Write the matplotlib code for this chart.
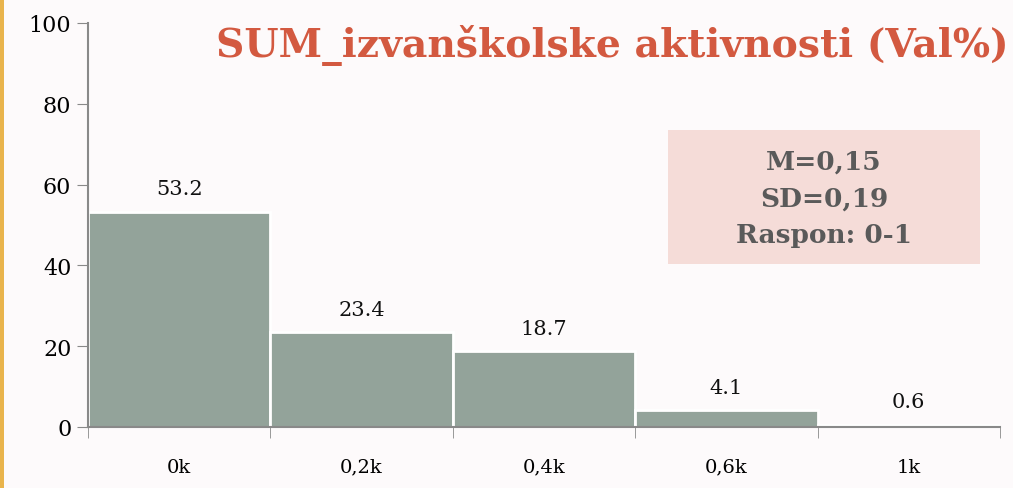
import numpy as np
import matplotlib.pyplot as plt
from matplotlib.patches import Rectangle

categories = ['0k', '0,2k', '0,4k', '0,6k', '1k']
values = [53.2, 23.4, 18.7, 4.1, 0.6]
value_labels = ['53.2', '23.4', '18.7', '4.1', '0.6']
stats_text = 'M=0,15\nSD=0,19\nRaspon: 0-1'
title = 'SUM_izvanškolske aktivnosti (Val%)'

plt.rcParams['font.family'] = ['DejaVu Serif']

bg = '#fdfafb'
fig = plt.figure(figsize=(10.13, 4.89), dpi=100, facecolor=bg)
ax = fig.add_axes([88 / 1013, 1 - 428 / 489, 912 / 1013, 404 / 489])
ax.set_facecolor(bg)

x = np.arange(len(categories))
ax.bar(x, values, width=1.0, color='#93a39a', edgecolor='white', linewidth=2)
for xi, v, lab in zip(x, values, value_labels):
    ax.annotate(lab, (xi, v), xytext=(0, 10), textcoords='offset points',
                ha='center', va='bottom', fontsize=15, color='#111111')

ax.set_xlim(-0.5, len(categories) - 0.5)
ax.set_ylim(0, 100)
ax.set_yticks([0, 20, 40, 60, 80, 100])
ax.set_xticks(x)
ax.set_xticklabels(categories)
ax.set_xticks(np.arange(len(categories) + 1) - 0.5, minor=True)
ax.tick_params(axis='x', which='major', length=0, pad=22, labelsize=14)
ax.tick_params(axis='x', which='minor', length=8, color='#898989', direction='out')
ax.tick_params(axis='y', length=8, color='#898989', labelsize=16, pad=4)
for s in ['top', 'right']:
    ax.spines[s].set_visible(False)
for s in ['left', 'bottom']:
    ax.spines[s].set_color('#898989')
    ax.spines[s].set_linewidth(1.5)

fig.text(216 / 1013, 1 - 45 / 489, title, fontsize=28.3, fontweight='bold',
         color='#d35940', ha='left', va='center')

fig.patches.append(Rectangle((668 / 1013, 1 - 265 / 489), 312 / 1013, 134 / 489,
                             transform=fig.transFigure, facecolor='#f5dcd8',
                             edgecolor='none', zorder=0))
fig.text(824 / 1013, 1 - 199 / 489, stats_text, fontsize=19, fontweight='bold',
         color='#5a5a5a', ha='center', va='center', linespacing=1.6)

fig.patches.append(Rectangle((0, 0), 4 / 1013, 1, transform=fig.transFigure,
                             facecolor='#e9b44c', edgecolor='none'))

fig.savefig('out.png', dpi=100, facecolor=bg)
